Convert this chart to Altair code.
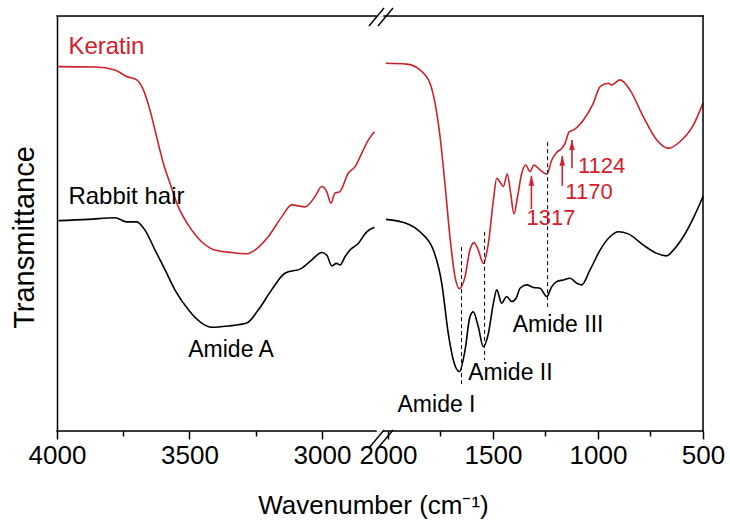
import altair as alt
import pandas as pd

FONT = "Liberation Sans"
RED = "#cc2229"
TXT_RED = "#d3202a"

# ---------------- data (wavenumber, transmittance a.u.) ----------------
ker_hi_wn = [3995, 3857, 3781, 3737, 3699, 3674, 3649, 3624, 3599, 3574, 3542, 3504,
             3454, 3404, 3341, 3284, 3253, 3203, 3152, 3114, 3064, 3026, 3001, 2982,
             2966, 2951, 2932, 2901, 2875, 2850, 2825, 2802]
ker_hi_t = [87.8, 87.7, 87.0, 85.4, 84.6, 82.2, 77.3, 70.9, 64.6, 59.8, 54.0, 49.6,
            45.6, 43.6, 43.0, 42.7, 43.6, 46.8, 51.6, 54.5, 54.0, 56.5, 58.9, 57.7,
            54.9, 57.3, 57.7, 62.1, 63.7, 66.9, 70.1, 72.1]

rab_hi_wn = [3995, 3882, 3781, 3737, 3699, 3668, 3630, 3592, 3555, 3504, 3454, 3416,
             3354, 3284, 3240, 3190, 3140, 3077, 3039, 3001, 2982, 2963, 2945, 2932,
             2913, 2894, 2863, 2831, 2802]
rab_hi_t = [50.7, 51.0, 51.4, 50.4, 50.4, 48.4, 43.6, 38.8, 34.0, 29.2, 26.0, 25.0,
            25.3, 26.0, 29.2, 34.0, 38.0, 39.2, 41.2, 43.0, 42.4, 39.8, 40.4, 40.0,
            42.0, 43.6, 45.2, 48.0, 49.1]

ker_lo_wn = [2010, 1911, 1848, 1800, 1776, 1752, 1729, 1705, 1681, 1660, 1633, 1610,
             1590, 1570, 1546, 1522, 1498, 1482, 1463, 1451, 1432, 1416, 1400, 1383,
             1363, 1344, 1324, 1305, 1276, 1244, 1220, 1197, 1173, 1157, 1137, 1118,
             1070, 1022, 990, 951, 935, 895, 848, 784, 720, 665, 610, 546, 500]
ker_lo_t = [88.6, 88.4, 87.0, 83.8, 79.0, 70.9, 59.7, 46.8, 37.2, 34.3, 37.2, 43.6,
            45.4, 43.6, 40.4, 45.2, 55.7, 60.9, 59.7, 58.9, 61.9, 57.3, 52.3, 56.5,
            62.1, 64.1, 62.5, 64.1, 62.9, 61.9, 65.3, 67.1, 68.1, 69.3, 72.1, 72.5,
            74.9, 79.0, 83.0, 83.8, 83.4, 84.6, 82.2, 75.7, 70.1, 68.1, 69.7, 73.7, 79.0]

rab_lo_wn = [2010, 1911, 1848, 1784, 1744, 1713, 1689, 1660, 1633, 1610, 1594, 1570,
             1546, 1522, 1498, 1482, 1459, 1435, 1411, 1390, 1371, 1340, 1308, 1276,
             1244, 1220, 1197, 1165, 1133, 1101, 1078, 1038, 990, 943, 903, 856,
             784, 720, 673, 641, 594, 546, 500]
rab_lo_t = [51.0, 50.0, 48.0, 43.6, 35.6, 23.5, 17.1, 14.3, 19.5, 27.5, 28.7, 25.1,
            20.3, 23.5, 30.8, 34.0, 30.8, 32.4, 31.2, 32.0, 34.4, 35.2, 34.6, 34.4,
            32.4, 34.8, 36.0, 36.4, 36.8, 35.6, 35.2, 38.8, 43.6, 46.8, 48.0, 47.5,
            44.8, 42.8, 42.2, 43.6, 46.8, 51.3, 56.5]

# band guide lines (Amide I, II, III)
band_wn = [1650, 1540, 1240]
band_top = [44.3, 48.0, 69.6]
band_bot = [11.1, 17.1, 29.9]

# arrows on keratin
arrow_wn = [1317, 1170, 1124]
arrow_tip = [61.5, 66.3, 70.1]
arrow_tail = [53.5, 59.1, 63.3]

# text labels
lab_text = ["Keratin", "Rabbit hair", "Amide A", "Amide I", "Amide II", "Amide III",
            "1317", "1170", "1124"]
lab_wn = [3957, 3957, 3343, 1769, 1417, 1190, 1224, 1043, 983]
lab_t = [92.5, 56.3, 19.5, 6.3, 14.0, 25.5, 51.4, 57.5, 63.9]
lab_color = ["red", "black", "black", "black", "black", "black", "red", "red", "red"]
lab_align = ["left", "left", "center", "center", "center", "center", "center", "center", "center"]
lab_size = [24, 24, 23, 23, 23, 23, 22, 22, 22]

# axis break: the two x ranges shown
seg_start = [4000, 2019]
seg_end = [2796, 500]

tick_values = [4000, 3750, 3500, 3250, 3000, 2000, 1750, 1500, 1250, 1000, 750, 500]

# ---------------- tables ----------------
def seg(series, segname, wn, t):
    return pd.DataFrame({"series": series, "segment": segname, "wn": wn, "t": t})

spec = pd.concat([
    seg("Keratin", "Keratin-hi", ker_hi_wn, ker_hi_t),
    seg("Keratin", "Keratin-lo", ker_lo_wn, ker_lo_t),
    seg("Rabbit hair", "Rabbit-hi", rab_hi_wn, rab_hi_t),
    seg("Rabbit hair", "Rabbit-lo", rab_lo_wn, rab_lo_t),
], ignore_index=True)

bands = pd.DataFrame({"wn": band_wn, "t1": band_top, "t2": band_bot})
arrows = pd.DataFrame({"wn": arrow_wn, "tip": arrow_tip, "tail": arrow_tail})
labels = pd.DataFrame({"text": lab_text, "wn": lab_wn, "t": lab_t, "col": lab_color,
                       "align": lab_align, "size": lab_size})
frame = pd.DataFrame({"x1": seg_start * 2, "x2": seg_end * 2, "y": [100, 100, 0, 0]})

W, H = 646, 415
xscale = alt.Scale(domain=[4000, seg_end[0], seg_start[1], 500],
                   range=[0, 319, 327, W], zero=False, nice=False)
yscale = alt.Scale(domain=[0, 100], nice=False, zero=False)

xaxis = alt.Axis(
    values=tick_values, format="d",
    labelExpr="datum.value % 500 == 0 ? datum.label : ''",
    tickSize={"condition": {"test": "datum.value % 500 == 0", "value": 8}, "value": 5},
    tickColor="black", tickWidth=1.5, domain=False, grid=False,
    labelFont=FONT, labelFontSize=26, labelColor="black", labelPadding=3,
    labelOverlap=False, labelFlush=False,
    title="Wavenumber (cm\u207b\u00b9)", titleFont=FONT, titleFontSize=26,
    titleFontWeight="normal", titleColor="black",
    titleX=316, titleY=82, titleAlign="center", titleBaseline="alphabetic", titleAnchor="start",
)
yaxis = alt.Axis(
    ticks=False, labels=False, grid=False, domain=True, domainColor="black", domainWidth=1.5,
    title="Transmittance", titleFont=FONT, titleFontSize=29, titleFontWeight="normal",
    titleColor="black", titleX=-24, titleY=221, titleAngle=270, titleAlign="center",
    titleBaseline="alphabetic",
)

X = alt.X("wn:Q", scale=xscale, axis=xaxis)
Y = alt.Y("t:Q", scale=yscale, axis=yaxis)

lines = alt.Chart(spec).mark_line(strokeWidth=1.6, interpolate="monotone").encode(
    x=X, y=Y,
    color=alt.Color("series:N", scale=alt.Scale(domain=["Keratin", "Rabbit hair"], range=[RED, "black"]),
                    legend=None),
    detail="segment:N",
)

frame_rules = alt.Chart(frame).mark_rule(color="black", strokeWidth=1.5, strokeCap="square").encode(
    x=alt.X("x1:Q", scale=xscale), x2="x2:Q", y=alt.Y("y:Q", scale=yscale))

right_edge = alt.Chart(pd.DataFrame({"wn": [500], "a": [0], "b": [100]})).mark_rule(
    color="black", strokeWidth=1.5, strokeCap="square").encode(
    x=alt.X("wn:Q", scale=xscale), y=alt.Y("a:Q", scale=yscale), y2="b:Q")

dash = alt.Chart(bands).mark_rule(color="black", strokeWidth=1, strokeDash=[4, 3]).encode(
    x=alt.X("wn:Q", scale=xscale), y=alt.Y("t1:Q", scale=yscale), y2="t2:Q")

shafts = alt.Chart(arrows).mark_rule(color=TXT_RED, strokeWidth=1.6).encode(
    x=alt.X("wn:Q", scale=xscale), y=alt.Y("tail:Q", scale=yscale), y2="tip:Q")

heads = alt.Chart(arrows).mark_point(
    shape="M0,0L0.55,2L-0.55,2Z", filled=True, size=100, color=TXT_RED, opacity=1
).encode(x=alt.X("wn:Q", scale=xscale), y=alt.Y("tip:Q", scale=yscale))

texts = []
for al in ["left", "center"]:
    for sz in [22, 23, 24]:
        sub = labels[(labels["align"] == al) & (labels["size"] == sz)]
        if len(sub) == 0:
            continue
        texts.append(
            alt.Chart(sub).mark_text(font=FONT, fontSize=sz, align=al, baseline="middle").encode(
                x=alt.X("wn:Q", scale=xscale), y=alt.Y("t:Q", scale=yscale), text="text:N",
                color=alt.Color("col:N", scale=alt.Scale(domain=["red", "black"], range=[TXT_RED, "black"]),
                                legend=None),
            )
        )

# axis-break slashes (decoration)
slash_specs = [(312, 10, 327, -8), (321, 10, 336, -8), (312, 432, 327, 414), (321, 432, 336, 414)]
slashes = [
    alt.Chart(pd.DataFrame({"k": [0]})).mark_rule(color="black", strokeWidth=1.4).encode(
        x=alt.value(a), y=alt.value(b), x2=alt.value(c), y2=alt.value(d))
    for (a, b, c, d) in slash_specs
]

chart = alt.layer(lines, frame_rules, right_edge, dash, shafts, heads, *texts, *slashes).resolve_scale(
    color="independent"
).properties(
    width=W, height=H,
    autosize=alt.AutoSizeParams(type="none"),
    padding={"left": 57, "top": 16, "right": 27, "bottom": 89},
).configure_view(stroke=None).configure(background="white")

chart.save("out.html", embed_options={"renderer": "svg", "actions": False})
